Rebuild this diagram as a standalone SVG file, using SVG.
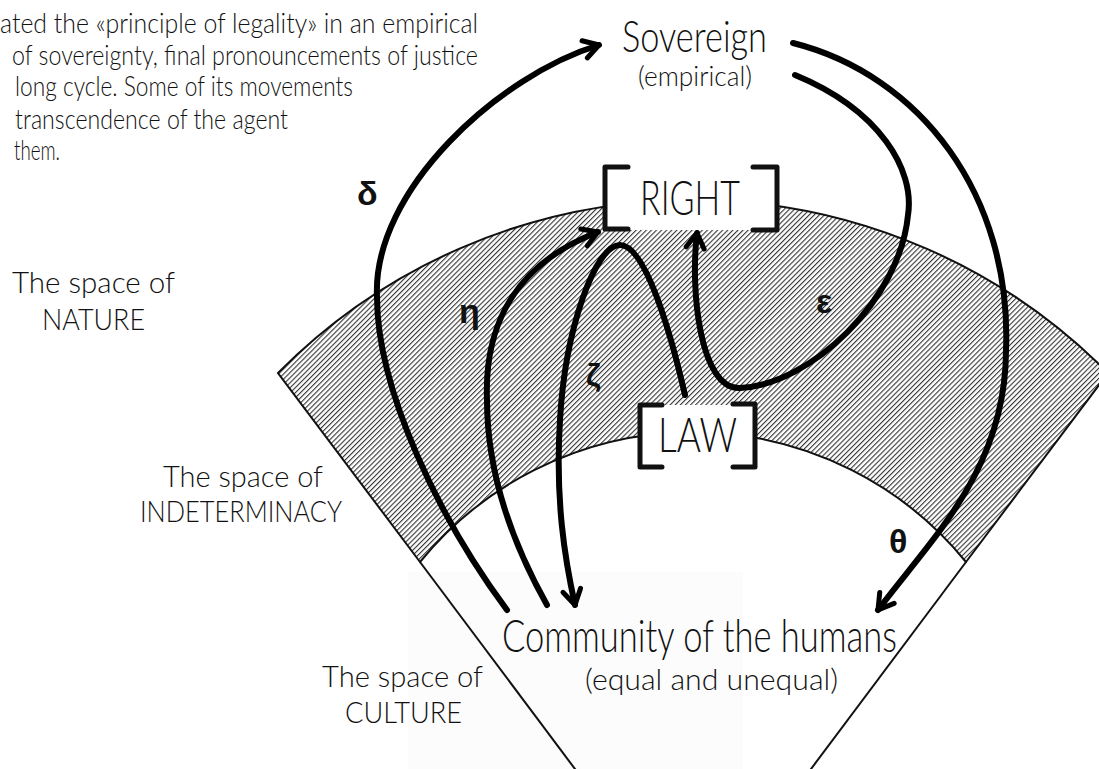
<svg xmlns="http://www.w3.org/2000/svg" width="1099" height="769" viewBox="0 0 1099 769">
  <style>
    .hand { font-family: Lato, "Liberation Sans", sans-serif; font-weight: 300; fill: #111; }
    .greek { font-family: "Liberation Sans", "DejaVu Sans", sans-serif; font-weight: bold; font-size: 34px; fill: #111; }
    .edge { fill: none; stroke: #111; stroke-width: 2; }
    .band { fill: url(#hatch); stroke: #111; stroke-width: 2; }
    .conn { fill: none; stroke: #000; stroke-width: 6; stroke-linecap: round; }
    .brk { fill: none; stroke: #111; stroke-width: 5; stroke-linecap: round; stroke-linejoin: round; }
  </style>
  <defs>
    <pattern id="hatch" patternUnits="userSpaceOnUse" width="3.6" height="3.6" patternTransform="rotate(45)">
      <rect x="0" y="0" width="3.6" height="3.6" fill="#fff"/>
      <rect x="0" y="0" width="1.1" height="3.6" fill="#333"/>
    </pattern>
    <marker id="arr" markerUnits="userSpaceOnUse" viewBox="-20 -12 24 24" markerWidth="24" markerHeight="24" refX="0" refY="0" orient="auto">
      <path d="M-15,-9 L0,0 L-15,9" fill="none" stroke="#000" stroke-width="5" stroke-linecap="round" stroke-linejoin="round"/>
    </marker>
  </defs>

  <rect width="1099" height="769" fill="#fff"/>
  <rect x="408" y="572" width="335" height="197" fill="#fcfcfc"/>

  <!-- sector -->
  <g id="sector">
    <path class="band" d="M278,373 A584,584 0 0 1 1108,373 L966,562 A352,352 0 0 0 420,562 Z"/>
    <line x1="420" y1="562" x2="590" y2="789" class="edge"/>
    <line x1="966" y1="562" x2="796" y2="789" class="edge"/>
  </g>

  <!-- intro text -->
  <g id="intro" class="hand" font-size="27">
    <text x="0" y="33" textLength="478" lengthAdjust="spacingAndGlyphs">ated the «principle of legality» in an empirical</text>
    <text x="12" y="65" textLength="466" lengthAdjust="spacingAndGlyphs">of sovereignty, final pronouncements of justice</text>
    <text x="15" y="96" textLength="338" lengthAdjust="spacingAndGlyphs">long cycle. Some of its movements</text>
    <text x="15" y="129" textLength="273" lengthAdjust="spacingAndGlyphs">transcendence of the agent</text>
    <text x="14" y="160" textLength="46" lengthAdjust="spacingAndGlyphs">them.</text>
  </g>

  <!-- space labels -->
  <g id="label-nature" class="hand" font-size="30">
    <text x="12" y="293" textLength="163" lengthAdjust="spacingAndGlyphs">The space of</text>
    <text x="42" y="330" textLength="103" lengthAdjust="spacingAndGlyphs">NATURE</text>
  </g>
  <g id="label-indeterminacy" class="hand" font-size="29">
    <text x="163" y="487" textLength="160" lengthAdjust="spacingAndGlyphs">The space of</text>
    <text x="140" y="522" textLength="202" lengthAdjust="spacingAndGlyphs">INDETERMINACY</text>
  </g>
  <g id="label-culture" class="hand" font-size="30">
    <text x="322" y="687" textLength="161" lengthAdjust="spacingAndGlyphs">The space of</text>
    <text x="345" y="723" textLength="117" lengthAdjust="spacingAndGlyphs">CULTURE</text>
  </g>

  <!-- connectors -->
  <g id="connectors">
    <path id="delta" class="conn" d="M507,610 C440,520 377,390 377,297 C372,190 500,75 599,45" marker-end="url(#arr)"/>
    <path id="theta" class="conn" d="M793,43 C920,75 1012,195 1006,350 C1006,470 930,540 878,610" marker-end="url(#arr)"/>
    <path id="epsilon" class="conn" d="M795,75 C880,110 915,170 908,215 C900,300 810,385 740,388 C700,390 690,290 697,233" marker-end="url(#arr)"/>
    <path id="eta" class="conn" d="M547,605 C505,530 487,460 487,400 C484,320 520,262 598,232" marker-end="url(#arr)"/>
    <path id="zeta" class="conn" d="M685,395 C670,330 645,245 620,245 C595,245 565,330 560,420 C555,500 565,560 575,605" marker-end="url(#arr)"/>
  </g>

  <!-- connector labels -->
  <g id="greek-labels" class="greek">
    <text x="357" y="205">δ</text>
    <text x="459" y="323">η</text>
    <text x="586" y="386" font-size="32">ζ</text>
    <text x="816" y="313">ε</text>
    <text x="889" y="553">θ</text>
  </g>

  <!-- nodes -->
  <g id="sovereign" class="hand">
    <text x="622" y="52" font-size="44" textLength="145" lengthAdjust="spacingAndGlyphs">Sovereign</text>
    <text x="638" y="86" font-size="28" textLength="114" lengthAdjust="spacingAndGlyphs">(empirical)</text>
  </g>

  <g id="right">
    <rect x="605" y="167" width="172" height="63" fill="#fff"/>
    <path class="brk" d="M628,167 L605,167 L605,229 L628,229"/>
    <path class="brk" d="M753,167 L777,167 L777,230 L753,230"/>
    <text class="hand" x="640" y="215" font-size="47" textLength="100" lengthAdjust="spacingAndGlyphs">RIGHT</text>
  </g>

  <g id="law">
    <rect x="640" y="405" width="115" height="62" fill="#fff"/>
    <path class="brk" d="M662,405 L640,405 L640,467 L662,467"/>
    <path class="brk" d="M733,404 L755,404 L755,467 L733,467"/>
    <text class="hand" x="658" y="452" font-size="47" textLength="79" lengthAdjust="spacingAndGlyphs">LAW</text>
  </g>

  <g id="community" class="hand">
    <text x="502" y="652" font-size="45" textLength="395" lengthAdjust="spacingAndGlyphs">Community of the humans</text>
    <text x="585" y="690" font-size="30" textLength="253" lengthAdjust="spacingAndGlyphs">(equal and unequal)</text>
  </g>
</svg>
